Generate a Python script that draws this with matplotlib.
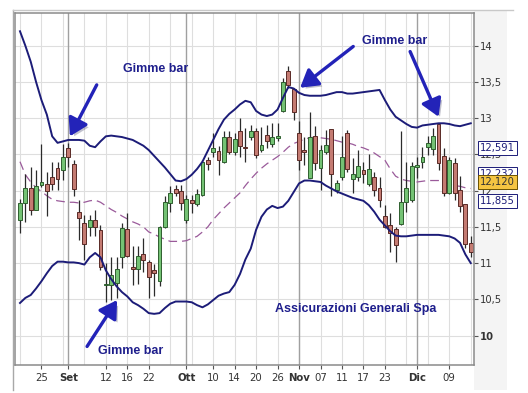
import numpy as np
import matplotlib
matplotlib.use("Agg")
import matplotlib.pyplot as plt
import matplotlib.patheffects as pe
from matplotlib.transforms import blended_transform_factory
from matplotlib.patches import Rectangle
from matplotlib.lines import Line2D

#### data (daily candles, one per trading day, Aug 19 -> Dec 15)
opens = [11.59, 11.83, 12.03, 11.74, 12.08, 12.09, 12.19, 12.31, 12.29, 12.59,
         12.37, 11.71, 11.55, 11.50, 11.60, 11.46, 10.70, 10.70, 10.72, 11.09,
         11.47, 10.94, 10.92, 11.13, 11.01, 10.91, 10.75, 11.50, 11.83, 12.02,
         12.00, 11.59, 11.87, 11.82, 11.94, 12.42, 12.54, 12.55, 12.40, 12.74,
         12.54, 12.83, 12.60, 12.74, 12.82, 12.56, 12.77, 12.65, 12.73, 13.10,
         13.65, 13.40, 12.80, 12.56, 12.17, 12.76, 12.31, 12.53, 12.85, 12.01,
         12.19, 12.80, 12.16, 12.19, 12.28, 12.09, 12.19, 12.03, 11.65, 11.53,
         11.47, 11.54, 11.85, 11.87, 12.32, 12.40, 12.60, 12.57, 12.92, 12.48,
         11.97, 12.38, 12.01, 11.82, 11.28]
highs = [11.89, 12.23, 12.33, 12.28, 12.65, 12.26, 12.40, 12.40, 12.65, 12.66,
         12.43, 11.87, 11.67, 11.67, 11.74, 11.53, 11.00, 11.09, 11.09, 11.55,
         11.69, 11.24, 11.24, 11.34, 11.04, 10.99, 11.51, 11.92, 12.07, 12.08,
         12.08, 11.94, 11.94, 12.02, 12.43, 12.47, 12.79, 12.61, 12.82, 12.82,
         12.79, 13.00, 12.86, 12.91, 12.86, 12.88, 12.90, 12.94, 12.94, 13.55,
         13.72, 13.42, 12.96, 12.74, 13.09, 12.89, 12.63, 12.84, 12.85, 12.15,
         12.75, 12.84, 12.45, 12.56, 12.40, 12.51, 12.26, 12.19, 11.80, 11.69,
         11.50, 12.82, 12.40, 12.40, 12.47, 12.60, 12.75, 12.86, 12.93, 12.59,
         12.47, 12.45, 12.20, 11.82, 11.37]
lows = [11.41, 11.57, 11.67, 11.73, 12.05, 11.65, 12.01, 12.01, 12.15, 12.33,
        11.92, 11.32, 11.04, 11.37, 11.37, 10.91, 10.47, 10.49, 10.52, 10.93,
        11.09, 10.70, 10.71, 10.88, 10.52, 10.54, 10.68, 11.48, 11.71, 11.92,
        11.74, 11.55, 11.69, 11.79, 11.92, 12.29, 12.46, 12.22, 12.38, 12.50,
        12.49, 12.47, 12.40, 12.70, 12.45, 12.54, 12.59, 12.60, 12.68, 13.09,
        13.42, 12.98, 12.29, 12.36, 12.17, 12.29, 12.01, 12.50, 11.93, 11.97,
        12.15, 12.26, 11.97, 12.13, 12.11, 12.06, 11.93, 11.77, 11.48, 11.15,
        11.02, 11.53, 11.71, 11.85, 12.17, 12.31, 12.49, 12.49, 12.29, 11.92,
        11.96, 11.87, 11.71, 11.21, 11.09]
closes = [11.83, 12.03, 11.74, 12.07, 12.12, 12.00, 12.09, 12.16, 12.47, 12.46,
          12.02, 11.62, 11.27, 11.60, 11.50, 10.95, 10.71, 10.84, 10.92, 11.48,
          11.10, 10.92, 11.10, 11.04, 10.81, 10.87, 11.50, 11.84, 11.97, 11.97,
          11.83, 11.88, 11.83, 11.96, 12.40, 12.37, 12.59, 12.42, 12.74, 12.54,
          12.71, 12.61, 12.59, 12.82, 12.49, 12.63, 12.68, 12.74, 12.76, 13.50,
          13.46, 13.08, 12.42, 12.53, 12.74, 12.38, 12.56, 12.63, 12.23, 12.10,
          12.46, 12.30, 12.23, 12.34, 12.23, 12.30, 12.01, 11.87, 11.50, 11.41,
          11.25, 11.85, 12.03, 12.34, 12.36, 12.46, 12.66, 12.75, 12.38, 11.97,
          12.43, 11.97, 11.79, 11.27, 11.16]

## bollinger bands
upper_band = [14.20, 14.00, 13.78, 13.50, 13.25, 13.05, 12.75, 12.66, 12.68, 12.70,
              12.70, 12.70, 12.69, 12.62, 12.60, 12.68, 12.75, 12.76, 12.75, 12.74,
              12.72, 12.70, 12.66, 12.62, 12.56, 12.48, 12.40, 12.32, 12.23, 12.14,
              12.13, 12.16, 12.22, 12.30, 12.40, 12.55, 12.70, 12.85, 12.98, 13.06,
              13.12, 13.19, 13.24, 13.22, 13.10, 13.05, 13.03, 13.05, 13.12, 13.28,
              13.43, 13.41, 13.35, 13.32, 13.31, 13.31, 13.31, 13.32, 13.34, 13.36,
              13.36, 13.34, 13.34, 13.35, 13.36, 13.37, 13.38, 13.39, 13.25, 13.12,
              13.02, 12.97, 12.92, 12.88, 12.87, 12.90, 12.91, 12.92, 12.93, 12.93,
              12.92, 12.90, 12.89, 12.91, 12.93]
middle_band = [12.40, 12.22, 12.12, 12.04, 11.99, 11.93, 11.88, 11.86, 11.85, 11.84,
               11.84, 11.83, 11.84, 11.86, 11.87, 11.84, 11.79, 11.74, 11.70, 11.65,
               11.61, 11.57, 11.54, 11.50, 11.43, 11.40, 11.36, 11.33, 11.30, 11.30,
               11.30, 11.31, 11.34, 11.37, 11.43, 11.50, 11.60, 11.68, 11.76, 11.83,
               11.90, 11.97, 12.07, 12.16, 12.24, 12.31, 12.37, 12.42, 12.47, 12.53,
               12.60, 12.65, 12.68, 12.71, 12.73, 12.74, 12.73, 12.72, 12.71, 12.69,
               12.67, 12.66, 12.64, 12.61, 12.59, 12.56, 12.52, 12.47, 12.42, 12.30,
               12.20, 12.16, 12.14, 12.13, 12.12, 12.13, 12.14, 12.14, 12.14, 12.12,
               12.09, 12.07, 12.06, 12.04, 12.03]
lower_band = [10.45, 10.52, 10.56, 10.65, 10.75, 10.86, 10.96, 11.02, 11.02, 11.01,
              11.01, 11.00, 10.98, 11.08, 11.14, 11.08, 10.90, 10.78, 10.68, 10.60,
              10.54, 10.46, 10.42, 10.37, 10.31, 10.30, 10.31, 10.38, 10.44, 10.47,
              10.47, 10.47, 10.46, 10.42, 10.39, 10.43, 10.49, 10.55, 10.58, 10.60,
              10.70, 10.85, 11.05, 11.20, 11.46, 11.64, 11.74, 11.79, 11.76, 11.78,
              11.86, 11.98, 12.10, 12.14, 12.14, 12.13, 12.12, 12.07, 12.03, 11.99,
              11.96, 11.93, 11.90, 11.88, 11.86, 11.80, 11.71, 11.60, 11.52, 11.44,
              11.38, 11.37, 11.37, 11.38, 11.39, 11.39, 11.39, 11.39, 11.39, 11.38,
              11.37, 11.34, 11.28, 11.12, 11.00]

## x axis labels (trading-day index -> label)
tick_pos = [4, 9, 16, 20, 24, 31, 36, 40, 44, 48, 52, 56, 60, 64, 68, 74, 80]
tick_labels = ["25", "Set", "12", "16", "22", "Ott", "10", "14", "20", "26",
               "Nov", "07", "11", "17", "23", "Dic", "09"]
month_pos = [9, 31, 52, 74]

ytick_vals = [10, 10.5, 11, 11.5, 12, 12.5, 13, 13.5, 14]
ytick_labels = ["10", "10,5", "11", "11,5", "12", "12,5", "13", "13,5", "14"]

tag_vals = [12.591, 12.232, 12.120, 11.855]
tag_labels = ["12,591", "12,232", "12,120", "11,855"]

#### plotting
W, H = 528, 393
fig = plt.figure(figsize=(W / 100, H / 100), dpi=100)
fig.patch.set_facecolor("white")

## faint strip behind the price scale + outer frame lines
fig.add_artist(Rectangle((474 / W, 1 - 390 / H), 33 / W, 380 / H,
                         transform=fig.transFigure, facecolor="#f4f4f4",
                         edgecolor="none", zorder=0))
fig.add_artist(Line2D([13 / W, 13 / W], [1 - 390 / H, 1 - 10 / H],
                      transform=fig.transFigure, color="#a8a8a8", lw=1))
fig.add_artist(Line2D([13 / W, 513 / W], [1 - 10 / H, 1 - 10 / H],
                      transform=fig.transFigure, color="#c8c8c8", lw=1))

ax = fig.add_axes([15 / W, 1 - 365 / H, 459.3 / W, 352 / H])
ax.set_facecolor("white")
n = len(opens)
x = np.arange(n)

## grid
for gx in range(0, n, 4):
    ax.axvline(gx, color="#dedede", lw=0.8, zorder=0)
for mx in month_pos:
    ax.axvline(mx, color="#a0a0a0", lw=1.0, zorder=0.1)
for gy in ytick_vals:
    ax.axhline(gy, color="#dedede", lw=0.8, zorder=0)

## bands
ax.plot(x, middle_band, color="#9a5a9a", lw=0.9, ls=(0, (7, 4)), zorder=1)
ax.plot(x, upper_band, color="#1c1c78", lw=1.4, zorder=3)
ax.plot(x, lower_band, color="#1c1c78", lw=1.4, zorder=3)

## candles
o = np.array(opens); c = np.array(closes)
up = c >= o
body_lo = np.minimum(o, c)
body_h = np.maximum(np.abs(c - o), 0.012)
ax.vlines(x, lows, highs, color="#2b2b2b", lw=0.9, zorder=2)
ax.bar(x[up], body_h[up], bottom=body_lo[up], width=0.72,
       color="#74c274", edgecolor="#2f5f2f", lw=0.7, zorder=2.2)
ax.bar(x[~up], body_h[~up], bottom=body_lo[~up], width=0.72,
       color="#c47b72", edgecolor="#5a2a26", lw=0.7, zorder=2.2)

ax.set_xlim(-0.93, 84.66)
ax.set_ylim(9.594, 14.452)

## axes cosmetics
for s in ax.spines.values():
    s.set_color("#8a8a8a")
    s.set_linewidth(1.1)
ax.yaxis.tick_right()
ax.set_yticks(ytick_vals)
ax.set_yticklabels(ytick_labels)
ax.tick_params(axis="y", length=3, width=0.8, color="#555555", pad=1,
               labelsize=7.2, labelcolor="#333333")
for lbl in ax.get_yticklabels():
    if lbl.get_text() == "10":
        lbl.set_fontweight("bold")
ax.set_xticks(tick_pos)
ax.set_xticklabels(tick_labels)
ax.tick_params(axis="x", length=3, width=0.8, color="#555555", pad=3,
               labelsize=7.3, labelcolor="#333333")
for lbl in ax.get_xticklabels():
    if lbl.get_text() in ("Set", "Ott", "Nov", "Dic"):
        lbl.set_fontweight("bold")

## price tags on the right scale (they sit over the scale like in the original)
tr = blended_transform_factory(ax.transAxes, ax.transData)
tag_styles = [("white", "#1c1c78", 10), ("white", "#1c1c78", 9),
              ("#f5c542", "#6b5200", 11), ("white", "#1c1c78", 10)]
for val, txt, (fc, ec, z) in zip(tag_vals, tag_labels, tag_styles):
    ax.text(1.012, val, txt, transform=tr, ha="left", va="center",
            fontsize=7.2, color="#1c1c78" if fc == "white" else "#333333",
            clip_on=False, zorder=z,
            bbox=dict(boxstyle="square,pad=0.2", fc=fc, ec=ec, lw=0.7))

## annotations
ann_color = "#1e1e8c"
arrow_color = "#2323b8"
font = dict(family=["Liberation Sans", "DejaVu Sans"], fontweight="bold",
            fontsize=9, color=ann_color)
ax.text(25.2, 13.68, "Gimme bar", ha="center", va="center", zorder=6, **font)
ax.text(69.9, 14.06, "Gimme bar", ha="center", va="center", zorder=6, **font)
ax.text(20.7, 9.79, "Gimme bar", ha="center", va="center", zorder=6, **font)
ax.text(62.6, 10.37, "Assicurazioni Generali Spa", ha="center", va="center",
        zorder=6, **font)

arrows = [((14.3, 13.46), (9.3, 12.75)),
          ((62.1, 13.99), (52.2, 13.42)),
          ((72.7, 13.92), (78.0, 13.02)),
          ((12.5, 9.85), (18.1, 10.49))]
for tail, tip in arrows:
    ax.annotate("", xy=tip, xytext=tail, zorder=7,
                arrowprops=dict(arrowstyle="-|>,head_length=0.75,head_width=0.45",
                                color=arrow_color, lw=2.4, mutation_scale=14,
                                shrinkA=0, shrinkB=0,
                                path_effects=[pe.SimplePatchShadow(offset=(2, -2), alpha=0.25),
                                              pe.Normal()]))

plt.savefig("out.png", dpi=100)
